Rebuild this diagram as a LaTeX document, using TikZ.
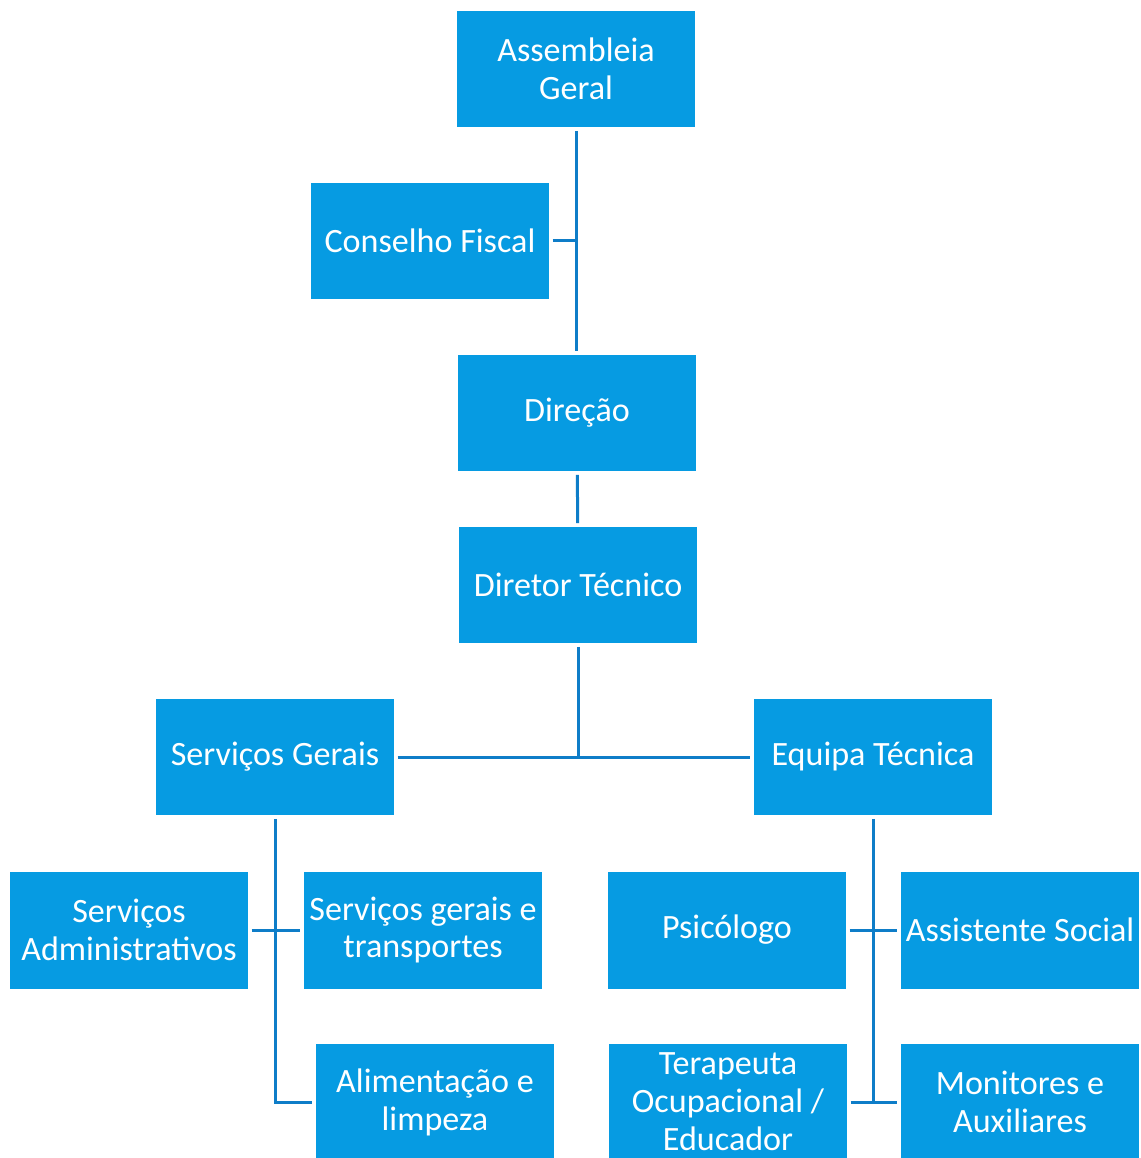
\documentclass[tikz,border=0pt]{standalone}
\usepackage{fontspec}
\setsansfont{Carlito}
\usepackage{xcolor}
\usepackage{tikz}
\usetikzlibrary{positioning,calc}
\definecolor{boxblue}{HTML}{069BE2}
\definecolor{lineblue}{HTML}{0E7DC8}

\begin{document}
\begin{tikzpicture}[
  x=0.02cm, y=-0.02cm,
  font=\sffamily\fontsize{19.4}{21.6}\selectfont,
  box/.style={fill=boxblue, text=white, minimum width=4.77cm, minimum height=2.34cm, inner sep=0pt, outer sep=0.07cm, align=center},
  link/.style={draw=lineblue, line width=0.06cm}
]
  \useasboundingbox (0,0) rectangle (1140,1158);

  \node[box] (assembleia) at (576,69) {Assembleia\\Geral};
  \node[box] (conselho) at (430,241) {Conselho Fiscal};
  \node[box] (direcao) at (577,413) {Direção};
  \node[box] (diretor) at (578,585) {Diretor Técnico};

  \node[box] (sgerais) at (275,757) {Serviços Gerais};
  \node[box] (equipa) at (873,757) {Equipa Técnica};

  \node[box] (sadmin) at (129,930) {Serviços\\Administrativos};
  \node[box] (stransp) at (423,930) {Serviços gerais e\\transportes};
  \node[box] (alim) at (435,1102) {Alimentação e\\limpeza};

  \node[box] (psico) at (727,930) {Psicólogo};
  \node[box] (assist) at (1020,930) {Assistente Social};
  \node[box] (terap) at (728,1102) {Terapeuta\\Ocupacional /\\Educador};
  \node[box] (monit) at (1020,1102) {Monitores e\\Auxiliares};

  % top of the chart
  \draw[link] (assembleia.south) -- (assembleia.south |- direcao.north);
  \draw[link] (conselho.east) -- ($(conselho.east -| assembleia.south)+(1.5,0)$);
  \draw[link] (direcao) -- (diretor);
  \draw[link] (diretor.south) -- (diretor.south |- sgerais.east);
  \draw[link] (sgerais.east) -- (equipa.west);

  % left branch
  \draw[link] (sgerais.south) -- (sgerais.south |- alim.west) -- (alim.west);
  \draw[link] (sadmin.east) -- (stransp.west);

  % right branch
  \draw[link] (equipa.south) -- (equipa.south |- monit.west);
  \draw[link] (psico.east) -- (assist.west);
  \draw[link] (terap.east) -- (monit.west);
\end{tikzpicture}
\end{document}
